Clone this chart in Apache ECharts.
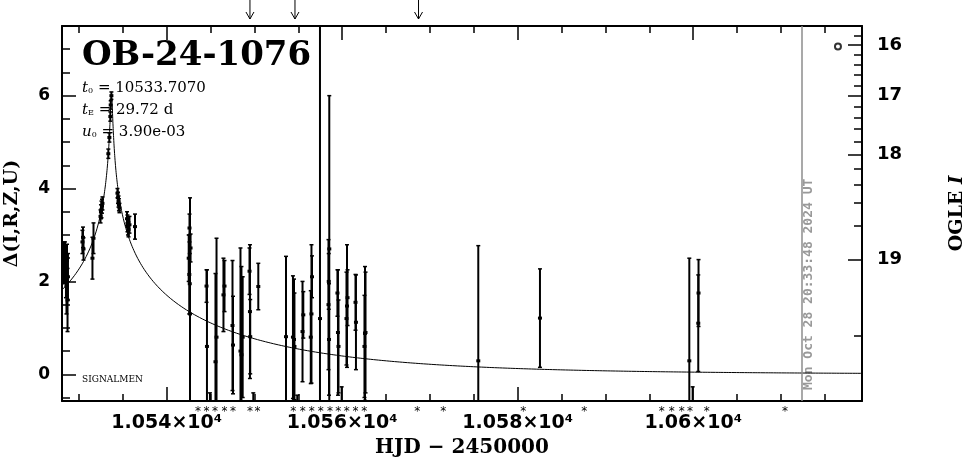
<!DOCTYPE html>
<html><head><meta charset="utf-8">
<script src="https://cdn.jsdelivr.net/npm/echarts@6/dist/echarts.min.js"></script>
<style>html,body{margin:0;padding:0;background:#fff}#c{width:965px;height:459px}</style>
</head><body><div id="c"></div>
<script>
// ---- event / model parameters (as printed on the chart) ----
const eventName = 'OB-24-1076';
const T0 = 10533.7070, TE = 29.72, U0 = 3.90e-3;

// ---- observations: time (HJD-2450000), Δ, error ----
const obsT = [
  10528.30,10528.41,10528.52,10528.58,10528.64,10528.70,10528.75,
  10530.40,10530.46,10530.52,
  10531.54,10531.66,
  10532.46,10532.51,10532.57,10532.63,10532.68,
  10533.35,10533.47,10533.58,10533.62,10533.70,
  10534.39,10534.45,10534.51,10534.56,10534.62,
  10535.48,10535.53,10535.59,10535.65,10535.76,
  10536.39,
  10542.66,10542.51,10542.58,10542.63,10542.72,10542.60,
  10544.54,10544.59,10544.93,
  10545.68,10545.56,
  10546.47,10546.59,
  10547.50,10547.56,
  10548.41,10548.52,10548.66,
  10549.49,10549.44,10549.52,10549.87,
  10550.44,
  10553.60,
  10554.39,10554.51,10554.56,10554.88,
  10555.48,10555.57,
  10556.50,10556.42,10556.56,
  10557.47,
  10558.53,10558.44,10558.50,10558.47,
  10559.52,10559.46,10559.58,10559.94,
  10560.55,10560.49,10560.61,
  10561.57,10561.52,
  10562.60,10562.54,10562.66,
  10575.51,10582.54,10599.56,10599.94,10600.58,10600.61
];
const obsD = [
  2.40,2.55,2.20,1.90,2.45,1.60,2.10,
  2.85,2.95,2.70,
  2.50,2.93,
  3.40,3.50,3.55,3.62,3.68,
  4.75,5.10,5.55,5.80,6.00,
  3.90,3.80,3.72,3.65,3.58,
  3.35,3.25,3.18,3.12,3.22,
  3.18,
  1.30,2.50,2.15,1.95,2.72,3.15,
  1.90,0.60,-1.00,
  0.80,0.27,
  1.71,1.90,
  1.05,0.63,
  0.50,0.42,0.80,
  1.35,2.22,0.81,-1.00,
  1.89,
  0.81,
  0.80,0.75,0.60,-0.90,
  0.92,1.28,
  1.30,0.80,2.10,
  1.20,
  2.70,1.50,0.75,2.00,
  0.90,1.75,0.60,-0.90,
  1.47,1.20,1.65,
  1.12,1.55,
  0.88,0.60,0.90,
  0.29,1.21,0.29,-0.90,1.10,1.75
];
const obsE = [
  0.45,0.30,0.55,0.60,0.35,0.68,0.50,
  0.25,0.22,0.24,
  0.45,0.33,
  0.14,0.15,0.18,0.15,0.14,
  0.10,0.10,0.10,0.09,0.08,
  0.10,0.12,0.12,0.13,0.10,
  0.15,0.18,0.18,0.16,0.18,
  0.27,
  2.50,0.50,0.85,0.65,0.30,0.30,
  0.35,1.65,0.60,
  2.13,1.90,
  0.79,0.55,
  1.40,1.05,
  2.22,1.90,1.30,
  1.44,0.50,0.80,0.60,
  0.50,
  1.73,
  1.32,1.30,1.15,0.45,
  1.08,0.50,
  1.49,1.00,0.45,
  9.00,
  3.30,1.40,1.20,0.60,
  1.35,0.50,1.00,0.63,
  1.32,1.00,0.60,
  1.02,0.60,
  1.44,1.10,1.30,
  2.48,1.06,2.21,0.63,1.04,0.72
];

// ---- other epochs marked below / above the frame ----
const starT = [10543.57,10544.54,10545.50,10546.59,10547.56,10549.49,10550.35,
  10554.43,10555.50,10556.52,10557.55,10558.61,10559.56,10560.51,10561.52,10562.52,
  10568.56,10571.52,10580.64,10587.59,10596.41,10597.55,10598.69,10599.64,10601.54,10610.46];
const arrowT = [10549.49, 10554.62, 10568.70];
const dateLineT = 10612.40;
const dateStamp = 'Mon Oct 28 20:33:48 2024 UT';
const ogleMarker = [[10616.5, 7.06]];

// ---- axes ----
const X_MIN = 10528.07, X_MAX = 10619.24;
const Y_MIN = -0.575, Y_MAX = 7.50;
const xMajor = [10540, 10560, 10580, 10600];
const xMinor = [10530,10535,10545,10550,10555,10565,10570,10575,10585,10590,10595,10605,10610,10615];
const yMajor = [0, 2, 4, 6];
const yMinor = [-0.5,0.5,1,1.5,2.5,3,3.5,4.5,5,5.5,6.5,7];
const magMajor = [16, 17, 18, 19];
const magMinor = [15.8,16.2,16.4,16.6,16.8,17.2,17.4,17.6,17.8,18.2,18.4,18.6,18.8,19.2];
// OGLE I scale: source flux fraction / blend flux (relative to I=16)
const SRC_F = 0.00139, BLEND_F = 0.0495, REF_MAG = 16;
const magToDelta = m => 2.5 * Math.log10((Math.pow(10, -0.4 * (m - REF_MAG)) - BLEND_F) / SRC_F);
const deltaToMag = d => REF_MAG - 2.5 * Math.log10(SRC_F * Math.pow(10, 0.4 * d) + BLEND_F);

// ---- point-lens model from the printed parameters ----
function deltaModel(t) {
  const tau = (t - T0) / TE;
  const u = Math.sqrt(U0 * U0 + tau * tau);
  const A = (u * u + 2) / (u * Math.sqrt(u * u + 4));
  return 2.5 * Math.log10(A);
}
const modelPts = [];
for (let t = X_MIN; t <= X_MAX; ) {
  modelPts.push([t, deltaModel(t)]);
  t += Math.abs(t - T0) < 1 ? 0.002 : 0.05;
}
modelPts.push([T0, deltaModel(T0)]);
modelPts.sort((a, b) => a[0] - b[0]);

const obsData = obsT.map((t, i) => [t, obsD[i], obsE[i]]);

const BOLD_NUM = 'DejaVu Sans';
const SERIF = 'DejaVu Serif';

function xAx(pos, major) {
  return {
    type: 'value', position: pos, min: X_MIN, max: X_MAX,
    splitLine: { show: false },
    axisLine: { show: major, onZero: false, lineStyle: { color: '#000', width: 2 } },
    axisTick: { show: true, inside: true, length: major ? 14 : 7, customValues: major ? xMajor : xMinor,
      lineStyle: { color: '#000', width: 1.5 } },
    axisLabel: (major && pos === 'bottom') ? {
      show: true, customValues: xMajor, margin: 13, color: '#000',
      fontFamily: BOLD_NUM, fontWeight: 'bold', fontSize: 19,
      formatter: v => parseFloat((v / 1e4).toFixed(4)) + '×10⁴'
    } : { show: false },
    name: (major && pos === 'bottom') ? 'HJD − 2450000' : '',
    nameLocation: 'middle', nameGap: 37,
    nameTextStyle: { color: '#000', fontFamily: SERIF, fontWeight: 'bold', fontSize: 20 }
  };
}
function yAx(pos, major, ticks, labelCfg, name, nameGap) {
  return {
    type: 'value', position: pos, min: Y_MIN, max: Y_MAX,
    splitLine: { show: false },
    axisLine: { show: major, onZero: false, lineStyle: { color: '#000', width: 2 } },
    axisTick: { show: true, inside: true, length: major ? 14 : 8, customValues: ticks,
      lineStyle: { color: '#000', width: 1.5 } },
    axisLabel: labelCfg || { show: false },
    name: name || '', nameLocation: 'middle', nameRotate: 90, nameGap: nameGap || 0,
    nameTextStyle: { color: '#000', fontFamily: SERIF, fontWeight: 'bold', fontSize: 19,
      rich: { i: { fontFamily: SERIF, fontWeight: 'bold', fontStyle: 'italic', fontSize: 18 } } }
  };
}

const option = {
  animation: false,
  grid: { left: 62, right: 103, top: 26, bottom: 58, containLabel: false, outerBoundsMode: 'none' },
  xAxis: [xAx('bottom', true), xAx('bottom', false), xAx('top', true), xAx('top', false)],
  yAxis: [
    yAx('left', true, yMajor, { show: true, customValues: yMajor, margin: 12, color: '#000',
      fontFamily: BOLD_NUM, fontWeight: 'bold', fontSize: 17 }, 'Δ(I,R,Z,U)', 40),
    yAx('left', false, yMinor),
    yAx('right', true, magMajor.map(magToDelta), { show: true, customValues: magMajor.map(magToDelta),
      margin: 15, color: '#000', fontFamily: BOLD_NUM, fontWeight: 'bold', fontSize: 18,
      formatter: v => String(Math.round(deltaToMag(v))) }, 'OGLE {i|I}', 86),
    yAx('right', false, magMinor.map(magToDelta))
  ],
  series: [
    {
      type: 'line', data: modelPts, showSymbol: false, xAxisIndex: 0, yAxisIndex: 0,
      lineStyle: { color: '#000', width: 1 }, silent: true,
      markLine: { silent: true, symbol: ['none', 'none'], label: { show: false },
        lineStyle: { color: '#8c8c8c', width: 1.5, type: 'solid' },
        data: [{ xAxis: dateLineT }] }
    },
    {
      type: 'custom', xAxisIndex: 0, yAxisIndex: 0, data: obsData, silent: true,
      renderItem(params, api) {
        const cs = params.coordSys;
        const t = api.value(0), d = api.value(1), e = api.value(2);
        const top = api.coord([t, d + e]), bot = api.coord([t, d - e]), c = api.coord([t, d]);
        const yTop = Math.max(top[1], cs.y), yBot = Math.min(bot[1], cs.y + cs.height);
        const ch = [];
        const st = { stroke: '#000', lineWidth: 2 };
        if (yBot > yTop) ch.push({ type: 'line', shape: { x1: c[0], y1: yTop, x2: c[0], y2: yBot }, style: st });
        if (top[1] >= cs.y) ch.push({ type: 'line', shape: { x1: c[0] - 2, y1: top[1], x2: c[0] + 2, y2: top[1] }, style: { stroke: '#000', lineWidth: 1.5 } });
        if (bot[1] <= cs.y + cs.height) ch.push({ type: 'line', shape: { x1: c[0] - 2, y1: bot[1], x2: c[0] + 2, y2: bot[1] }, style: { stroke: '#000', lineWidth: 1.5 } });
        if (c[1] >= cs.y && c[1] <= cs.y + cs.height) ch.push({ type: 'rect', shape: { x: c[0] - 2, y: c[1] - 1.5, width: 4, height: 3 }, style: { fill: '#000' } });
        return { type: 'group', children: ch };
      }
    },
    {
      type: 'custom', xAxisIndex: 0, yAxisIndex: 0, data: starT.map(t => [t, 0]), silent: true,
      renderItem(params, api) {
        const cs = params.coordSys;
        const x = api.coord([api.value(0), 0])[0];
        return { type: 'text', x: x, y: cs.y + cs.height + 11,
          style: { text: '*', fill: '#000', font: '12px DejaVu Sans', align: 'center', verticalAlign: 'middle' } };
      }
    },
    {
      type: 'custom', xAxisIndex: 0, yAxisIndex: 0, data: arrowT.map(t => [t, 0]), silent: true,
      renderItem(params, api) {
        const cs = params.coordSys;
        const x = api.coord([api.value(0), 0])[0];
        const y0 = cs.y - 26, y1 = cs.y - 7;
        return { type: 'group', children: [
          { type: 'line', shape: { x1: x, y1: y0, x2: x, y2: y1 }, style: { stroke: '#000', lineWidth: 1 } },
          { type: 'polyline', shape: { points: [[x - 4, y1 - 7], [x, y1], [x + 4, y1 - 7]] }, style: { stroke: '#000', fill: null, lineWidth: 1 } }
        ] };
      }
    },
    {
      type: 'scatter', xAxisIndex: 0, yAxisIndex: 0, data: ogleMarker, symbol: 'circle', symbolSize: 6,
      itemStyle: { color: '#fff', borderColor: '#000', borderWidth: 2 }, silent: true
    }
  ],
  graphic: [
    { type: 'text', x: 82, y: 56, style: { text: eventName, fill: '#000', font: 'bold 34px DejaVu Serif', verticalAlign: 'middle' } },
    { type: 'text', x: 82, y: 77, style: {
      text: '{i|t}{s|0} = 10533.7070\n{i|t}{s|E} = 29.72 d\n{i|u}{s|0} = 3.90e-03',
      fill: '#000', font: '15px DejaVu Serif', lineHeight: 22, verticalAlign: 'top',
      rich: { i: { font: 'italic 15px DejaVu Serif', lineHeight: 22 }, s: { font: '8px DejaVu Serif', lineHeight: 22, padding: [6, 0, 0, 0] } } } },
    { type: 'text', x: 82, y: 380, style: { text: 'SIGNALMEN', fill: '#000', font: '9px DejaVu Serif', verticalAlign: 'middle' } },
    { type: 'text', x: 809, y: 390, rotation: Math.PI / 2, style: { text: dateStamp, fill: '#999', font: 'bold 13px DejaVu Sans Mono', align: 'left', verticalAlign: 'middle' } }
  ]
};
const chart = echarts.init(document.getElementById('c'), null, { renderer: 'canvas' });
chart.setOption(option);
</script></body></html>
